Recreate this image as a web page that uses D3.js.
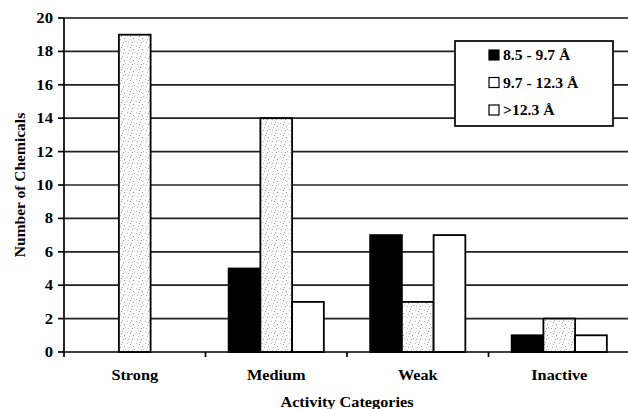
<!DOCTYPE html>
<html><head><meta charset="utf-8">
<script src="https://cdn.jsdelivr.net/npm/d3@7"></script>
<style>body{margin:0;background:#fff}svg{display:block}text{font-family:"Liberation Serif","Times New Roman",Tinos,serif;font-weight:bold;fill:#000}</style>
</head><body>
<script>
const categories = ["Strong", "Medium", "Weak", "Inactive"];
const seriesNames = ["8.5 - 9.7 Å", "9.7 - 12.3 Å", ">12.3 Å"];
const s1 = [0, 5, 7, 1];
const s2 = [19, 14, 3, 2];
const s3 = [0, 3, 7, 1];
const yTicks = [0, 2, 4, 6, 8, 10, 12, 14, 16, 18, 20];
const xTitle = "Activity Categories";
const yTitle = "Number of Chemicals";

const series = [s1, s2, s3];
const W = 628, H = 409;
const svg = d3.select("body").append("svg").attr("width", W).attr("height", H);

const defs = svg.append("defs");
const pat = defs.append("pattern").attr("id", "dots").attr("patternUnits", "userSpaceOnUse")
  .attr("width", 9).attr("height", 11);
pat.append("rect").attr("width", 9).attr("height", 11).attr("fill", "#fbfbfb");
[[1,2],[5,1],[3,6],[7,5],[2,9],[6,9],[8,8],[4,3]].forEach(([a,b],i)=>{
  pat.append("rect").attr("x", a).attr("y", b).attr("width", 1).attr("height", 1)
    .attr("fill", i % 2 ? "#999" : "#bbb");
});
const fills = ["#000", "url(#dots)", "#fff"];

const L = 64, R = 630, T = 18, B = 352;
const x = d3.scaleBand().domain(categories).range([L, R]).padding(0);
const xi = d3.scaleBand().domain([0,1,2]).range([0, x.bandwidth()]).paddingInner(0).paddingOuter(0.73);
const y = d3.scaleLinear().domain([0, 20]).range([B, T]);

function stext(g, xx, yy, str, size, sx, anchor) {
  return g.append("text").attr("transform", `translate(${xx},${yy}) scale(${sx},1)`)
    .attr("text-anchor", anchor).style("font-size", size + "px").text(str);
}

// grid
svg.append("g").selectAll("line").data(yTicks.filter(d => d > 0)).join("line")
  .attr("x1", L).attr("x2", R).attr("y1", d => y(d)).attr("y2", d => y(d))
  .attr("stroke", d => d === 20 ? "#111" : "#222").attr("stroke-width", 1.7);

// bars
const gb = svg.append("g");
categories.forEach((c, ci) => {
  series.forEach((s, si) => {
    const v = s[ci];
    if (v <= 0) return;
    gb.append("rect").attr("x", x(c) + xi(si)).attr("y", y(v))
      .attr("width", xi.bandwidth()).attr("height", y(0) - y(v))
      .attr("fill", fills[si]).attr("stroke", "#000").attr("stroke-width", 1.8);
  });
});

// axes lines
svg.append("line").attr("x1", L).attr("x2", L).attr("y1", T).attr("y2", B + 1).attr("stroke", "#000").attr("stroke-width", 1.7);
svg.append("line").attr("x1", L).attr("x2", R).attr("y1", B).attr("y2", B).attr("stroke", "#000").attr("stroke-width", 1.7);

// y ticks
const gy = svg.append("g");
yTicks.forEach(t => {
  gy.append("line").attr("x1", L - 6).attr("x2", L).attr("y1", y(t)).attr("y2", y(t)).attr("stroke", "#000").attr("stroke-width", 1.7);
  stext(gy, 53, y(t) + 5, String(t), 14.5, 1.15, "end");
});

// x ticks
const gx = svg.append("g");
categories.forEach((c, i) => {
  gx.append("line").attr("x1", x(c)).attr("x2", x(c)).attr("y1", B).attr("y2", B + 5).attr("stroke", "#000").attr("stroke-width", 1.7);
  stext(gx, x(c) + x.bandwidth() / 2, 380, c, 15.5, 1.05, "middle");
});

stext(svg, (L + R) / 2, 407, xTitle, 15.5, 1.05, "middle");
svg.append("text").attr("transform", `translate(25,${(T + B) / 2}) rotate(-90)`)
  .attr("text-anchor", "middle").style("font-size", "15.5px").text(yTitle);

// legend
const lg = svg.append("g");
lg.append("rect").attr("x", 455).attr("y", 41).attr("width", 158).attr("height", 85)
  .attr("fill", "#fff").attr("stroke", "#000").attr("stroke-width", 1.7);
seriesNames.forEach((n, i) => {
  const cy = 55 + i * 27.5;
  lg.append("rect").attr("x", 489).attr("y", cy - 5).attr("width", 10).attr("height", 10)
    .attr("fill", i === 0 ? "#000" : "#fff").attr("stroke", "#000").attr("stroke-width", 1.2);
  stext(lg, 503, cy + 5, n, 14.5, 1.08, "start");
});
</script>
</body></html>
